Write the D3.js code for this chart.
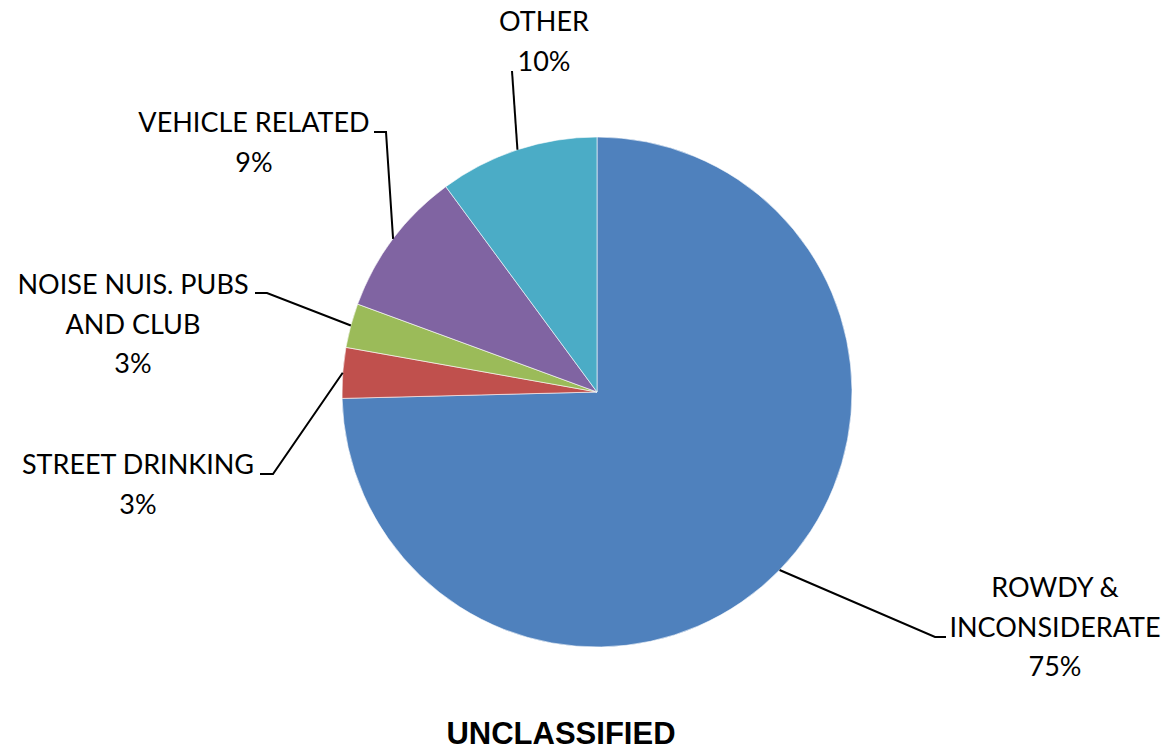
<!DOCTYPE html>
<html>
<head>
<meta charset="utf-8">
<script src="https://cdn.jsdelivr.net/npm/d3@7"></script>
<style>
  html, body { margin: 0; padding: 0; background: #fff; }
  svg { display: block; }
</style>
</head>
<body>
<svg id="chart" width="1164" height="750"></svg>
<script>
// ---- data ----
const categories = ["ROWDY & INCONSIDERATE", "STREET DRINKING", "NOISE NUIS. PUBS AND CLUB", "VEHICLE RELATED", "OTHER"];
const values = [74.6, 3.2, 2.8, 9.3, 10.1];
const labelLines = [["ROWDY &", "INCONSIDERATE"], ["STREET DRINKING"], ["NOISE NUIS. PUBS", "AND CLUB"], ["VEHICLE RELATED"], ["OTHER"]];
const colors = ["#4F81BD", "#C0504D", "#9BBB59", "#8064A2", "#4BACC6"];
const title = "UNCLASSIFIED";

// ---- layout (positions only) ----
const cx = 597, cy = 392, R = 255;
const labelPos = [
  { x: 1055, y: 597, elbow: [935, 637], end: [946, 637] },
  { x: 138, y: 474, elbow: [273, 474], end: [260, 474] },
  { x: 133, y: 294, elbow: [267, 293], end: [255, 293] },
  { x: 254, y: 132, elbow: [386, 132], end: [374, 132] },
  { x: 544, y: 31, elbow: [512, 71], end: [512, 71] }
];
const lineH = 39.5;

const svg = d3.select("#chart");
const data = categories.map((c, i) => ({ name: c, value: values[i], color: colors[i], lines: labelLines[i], pos: labelPos[i] }));

const pie = d3.pie().sort(null).value(d => d.value);
const arcs = pie(data);
const arc = d3.arc().innerRadius(0).outerRadius(R);

const g = svg.append("g").attr("transform", `translate(${cx},${cy})`);
g.selectAll("path.slice").data(arcs).join("path")
  .attr("class", "slice")
  .attr("d", arc)
  .attr("fill", d => d.data.color)
  .attr("stroke", "#ffffff")
  .attr("stroke-width", 0.6);

const total = d3.sum(values);
const fmt = v => Math.round(v / total * 100) + "%";

// leader lines
arcs.forEach(a => {
  const mid = (a.startAngle + a.endAngle) / 2;
  const sx = cx + R * Math.sin(mid), sy = cy - R * Math.cos(mid);
  const p = a.data.pos;
  svg.append("polyline")
    .attr("points", [[sx, sy], p.elbow, p.end].map(q => q.join(",")).join(" "))
    .attr("fill", "none")
    .attr("stroke", "#000")
    .attr("stroke-width", 2);
});

// labels
arcs.forEach(a => {
  const p = a.data.pos;
  const lines = a.data.lines.concat([fmt(a.data.value)]);
  const t = svg.append("text")
    .attr("text-anchor", "middle")
    .attr("font-family", "Lato, 'Open Sans', sans-serif")
    .attr("font-size", 27)
    .attr("fill", "#000");
  lines.forEach((ln, i) => {
    t.append("tspan").attr("x", p.x).attr("y", p.y + i * lineH).text(ln);
  });
});

svg.append("text")
  .attr("x", 561).attr("y", 744)
  .attr("text-anchor", "middle")
  .attr("font-family", "'Liberation Sans', Arial, sans-serif")
  .attr("font-weight", "bold")
  .attr("font-size", 31)
  .attr("fill", "#000")
  .text(title);
</script>
</body>
</html>
